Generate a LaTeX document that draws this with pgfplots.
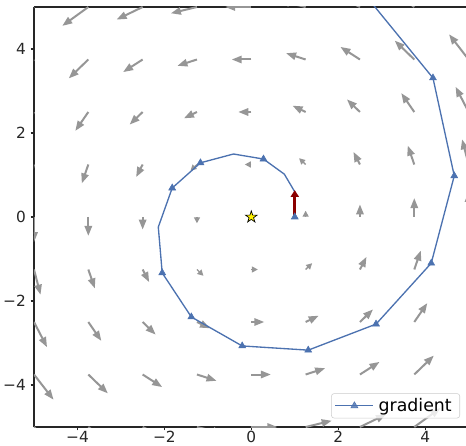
\documentclass[border=0pt]{standalone}
\usepackage{fontspec}
\setmainfont{DejaVu Sans}
\usepackage{pgfplots}
\pgfplotsset{compat=1.18}
\usetikzlibrary{arrows.meta}

\definecolor{sbblue}{RGB}{76,114,176}
\definecolor{arrowgray}{RGB}{150,150,150}
\definecolor{spine}{RGB}{38,38,38}
\definecolor{darkred}{RGB}{139,0,0}

% filled five-pointed star, like matplotlib's '*'
\pgfdeclareplotmark{fstar}{%
  \pgfpathmoveto{\pgfpointpolar{90}{\pgfplotmarksize}}%
  \pgfpathlineto{\pgfpointpolar{126}{0.382\pgfplotmarksize}}%
  \pgfpathlineto{\pgfpointpolar{162}{\pgfplotmarksize}}%
  \pgfpathlineto{\pgfpointpolar{198}{0.382\pgfplotmarksize}}%
  \pgfpathlineto{\pgfpointpolar{234}{\pgfplotmarksize}}%
  \pgfpathlineto{\pgfpointpolar{270}{0.382\pgfplotmarksize}}%
  \pgfpathlineto{\pgfpointpolar{306}{\pgfplotmarksize}}%
  \pgfpathlineto{\pgfpointpolar{342}{0.382\pgfplotmarksize}}%
  \pgfpathlineto{\pgfpointpolar{18}{\pgfplotmarksize}}%
  \pgfpathlineto{\pgfpointpolar{54}{0.382\pgfplotmarksize}}%
  \pgfpathclose
  \pgfusepathqfillstroke
}

\begin{document}
\begin{tikzpicture}
\begin{axis}[
    scale only axis,
    width=324pt, height=315pt,
    xmin=-5, xmax=4.94,
    ymin=-5, ymax=5,
    axis x line*=box, axis y line*=left,
    axis line style={spine, line width=0.9pt},
    xtick={-4,-2,0,2,4}, ytick={-4,-2,0,2,4},
    xticklabels={−4,−2,0,2,4}, yticklabels={−4,−2,0,2,4},
    xtick pos=bottom, ytick pos=left,
    tick align=outside,
    major tick length=2.6pt,
    tick style={spine, line width=0.9pt},
    tick label style={font=\fontsize{11.5}{13}\selectfont, text=spine},
    xticklabel style={inner ysep=0.5pt},
    legend style={at={(1,0)}, anchor=south east, xshift=-4.5pt, yshift=6.5pt,
        draw=black!20, rounded corners=2pt, fill=white, fill opacity=0.8,
        text opacity=1, draw opacity=1, inner xsep=2.5pt, inner ysep=1.5pt,
        nodes={inner xsep=3.5pt, inner ysep=2pt},
        font=\fontsize{13}{15}\selectfont},
]
% rotational field (-y, x)
\addplot[forget plot, arrowgray, line width=1.5pt,
    quiver={u=\thisrow{u}, v=\thisrow{v}, scale arrows=0.12},
    -{Triangle[length=7.5pt, width=5.5pt]}] table {
x y u v
-5 -5 5 -5
-3.75 -5 5 -3.75
-2.5 -5 5 -2.5
-1.25 -5 5 -1.25
0 -5 5 0
1.25 -5 5 1.25
2.5 -5 5 2.5
3.75 -5 5 3.75
5 -5 5 5
-5 -3.75 3.75 -5
-3.75 -3.75 3.75 -3.75
-2.5 -3.75 3.75 -2.5
-1.25 -3.75 3.75 -1.25
0 -3.75 3.75 0
1.25 -3.75 3.75 1.25
2.5 -3.75 3.75 2.5
3.75 -3.75 3.75 3.75
5 -3.75 3.75 5
-5 -2.5 2.5 -5
-3.75 -2.5 2.5 -3.75
-2.5 -2.5 2.5 -2.5
-1.25 -2.5 2.5 -1.25
0 -2.5 2.5 0
1.25 -2.5 2.5 1.25
2.5 -2.5 2.5 2.5
3.75 -2.5 2.5 3.75
5 -2.5 2.5 5
-5 -1.25 1.25 -5
-3.75 -1.25 1.25 -3.75
-2.5 -1.25 1.25 -2.5
2.5 -1.25 1.25 2.5
3.75 -1.25 1.25 3.75
5 -1.25 1.25 5
-5 0 0 -5
-3.75 0 0 -3.75
-2.5 0 0 -2.5
2.5 0 0 2.5
3.75 0 0 3.75
5 0 0 5
-5 1.25 -1.25 -5
-3.75 1.25 -1.25 -3.75
-2.5 1.25 -1.25 -2.5
2.5 1.25 -1.25 2.5
3.75 1.25 -1.25 3.75
5 1.25 -1.25 5
-5 2.5 -2.5 -5
-3.75 2.5 -2.5 -3.75
-2.5 2.5 -2.5 -2.5
-1.25 2.5 -2.5 -1.25
0 2.5 -2.5 0
1.25 2.5 -2.5 1.25
2.5 2.5 -2.5 2.5
3.75 2.5 -2.5 3.75
5 2.5 -2.5 5
-5 3.75 -3.75 -5
-3.75 3.75 -3.75 -3.75
-2.5 3.75 -3.75 -2.5
-1.25 3.75 -3.75 -1.25
0 3.75 -3.75 0
1.25 3.75 -3.75 1.25
2.5 3.75 -3.75 2.5
3.75 3.75 -3.75 3.75
5 3.75 -3.75 5
-5 5 -5 -5
-3.75 5 -5 -3.75
-2.5 5 -5 -2.5
-1.25 5 -5 -1.25
0 5 -5 0
1.25 5 -5 1.25
2.5 5 -5 2.5
3.75 5 -5 3.75
5 5 -5 5
};
% short arrows near the centre get small heads
\addplot[forget plot, arrowgray, line width=1pt,
    quiver={u=\thisrow{u}, v=\thisrow{v}, scale arrows=0.12},
    -{Triangle[length=4.5pt, width=4.5pt]}] table {
x y u v
-1.25 -1.25 1.25 -1.25
0 -1.25 1.25 0
1.25 -1.25 1.25 1.25
-1.25 0 0 -1.25
1.25 0 0 1.25
-1.25 1.25 -1.25 -1.25
0 1.25 -1.25 0
1.25 1.25 -1.25 1.25
};
% gradient path
\addplot[forget plot, sbblue, line width=1pt, mark=none] coordinates {
    (1.0,0) (1.0,0.6) (0.76,1.02) (0.28,1.38) (-0.41,1.50) (-1.17,1.29)
    (-1.82,0.69) (-2.14,-0.24) (-2.05,-1.33) (-1.38,-2.38) (-0.21,-3.07)
    (1.31,-3.17) (2.87,-2.55) (4.14,-1.10) (4.67,0.98) (4.18,3.31) (2.38,5.59)
};
\addplot[sbblue, only marks, mark=triangle*, mark size=3pt,
    mark options={line width=0.4pt},
    legend image code/.code={
        \draw[sbblue, line width=1pt] (0cm,0cm) -- (1cm,0cm);
        \draw[sbblue, line width=0.4pt] plot[only marks, mark=triangle*, mark size=3pt] coordinates {(0.5cm,0cm)};
    }] coordinates {
    (1.0,0) (0.28,1.38) (-1.17,1.29) (-1.82,0.69) (-2.05,-1.33) (-1.38,-2.38)
    (-0.21,-3.07) (1.31,-3.17) (2.87,-2.55) (4.14,-1.10) (4.67,0.98) (4.18,3.31)
};
\addlegendentry{gradient}
% first step
\addplot[forget plot, darkred, line width=2.2pt,
    quiver={u=\thisrow{u}, v=\thisrow{v}},
    -{Triangle[length=5pt, width=6pt]}] table {
x y u v
1 0 0 0.64
};
% minimum
\addplot[forget plot, only marks, mark=fstar, mark size=4.6pt,
    mark options={fill=yellow, draw=black, line width=0.5pt}] coordinates {(0,0)};
\end{axis}
\pgfresetboundingbox
\path[use as bounding box] ([xshift=-25.5pt,yshift=-13.5pt]current axis.south west)
    rectangle ([yshift=5.25pt]current axis.north east);
\end{tikzpicture}
\end{document}
